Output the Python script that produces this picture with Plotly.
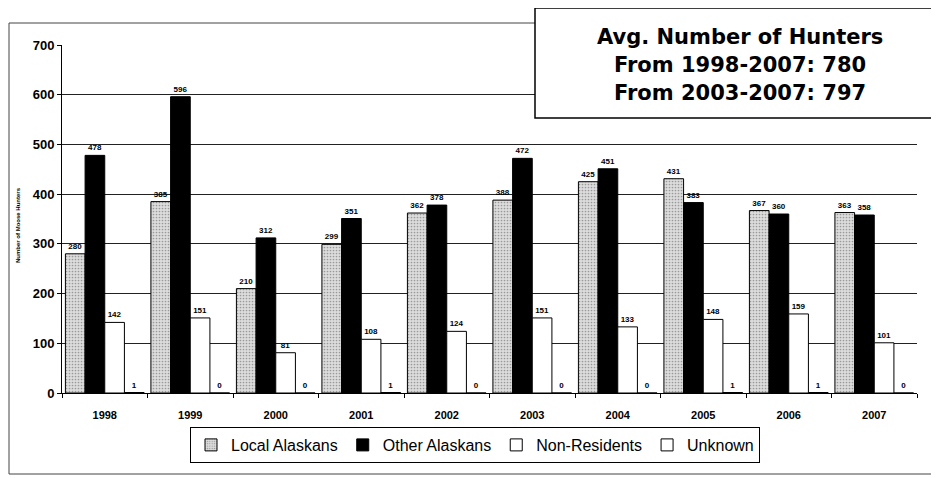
import plotly.graph_objects as go

years = ["1998", "1999", "2000", "2001", "2002", "2003", "2004", "2005", "2006", "2007"]
local_alaskans = [280, 385, 210, 299, 362, 388, 425, 431, 367, 363]
other_alaskans = [478, 596, 312, 351, 378, 472, 451, 383, 360, 358]
non_residents = [142, 151, 81, 108, 124, 151, 133, 148, 159, 101]
unknown = [1, 0, 0, 1, 0, 0, 0, 1, 1, 0]
y_ticks = [0, 100, 200, 300, 400, 500, 600, 700]
title_lines = ["Avg. Number of Hunters", "From 1998-2007: 780", "From 2003-2007: 797"]

OFF = 8  # page body margin
W, H = 939 - OFF, 478 - OFF
L, R, T, B = 62 - OFF, 22, 45 - OFF, 85
pw, ph = W - L - R, H - T - B

def px(x):
    return (x - OFF - L) / pw

def py(y):
    return (H - B - (y - OFF)) / ph

fig = go.Figure()
label_font = dict(family="Liberation Sans, Arial", size=8, color="black", weight="bold")

series = [
    ("Local Alaskans", local_alaskans, dict(color="#d4d4d4", line=dict(color="black", width=1),
                                             pattern=dict(shape=".", fgcolor="#555555", bgcolor="#dcdcdc", size=3, solidity=0.25))),
    ("Other Alaskans", other_alaskans, dict(color="black", line=dict(color="black", width=1))),
    ("Non-Residents", non_residents, dict(color="white", line=dict(color="black", width=1))),
    ("Unknown", unknown, dict(color="white", line=dict(color="black", width=1))),
]
for name, vals, marker in series:
    fig.add_trace(go.Bar(
        x=years, y=vals, name=name, marker=marker,
        text=[str(v) for v in vals], textposition="outside",
        textfont=label_font, cliponaxis=False,
    ))

fig.update_layout(
    width=W, height=H,
    margin=dict(l=L, r=R, t=T, b=B, autoexpand=False),
    paper_bgcolor="white", plot_bgcolor="white",
    barmode="group", bargap=0.08, bargroupgap=0,
    showlegend=True,
    legend=dict(orientation="h", x=px(475), xanchor="center", y=py(427), yanchor="top",
                bordercolor="black", borderwidth=1, bgcolor="white",
                font=dict(family="Liberation Sans, Arial", size=16, color="black"),
                tracegroupgap=0),
    xaxis=dict(showgrid=False, showline=True, linecolor="black", linewidth=1,
               ticks="outside", tickson="boundaries", ticklen=4, tickcolor="black",
               ticklabelstandoff=12,
               tickfont=dict(family="Liberation Sans, Arial", size=11, color="black", weight="bold")),
    yaxis=dict(range=[0, 700], tickvals=y_ticks, showgrid=True, gridcolor="#222222", gridwidth=1,
               showline=True, linecolor="black", linewidth=1, ticks="outside", ticklen=4,
               tickcolor="black", zeroline=False,
               tickfont=dict(family="Liberation Sans, Arial", size=13, color="black", weight="bold")),
)

# outer chart border
fig.add_shape(type="rect", xref="paper", yref="paper",
              x0=px(9), x1=px(933), y0=py(474), y1=py(23),
              line=dict(color="#444444", width=1), fillcolor="rgba(0,0,0,0)", layer="below")
# title box
fig.add_shape(type="rect", xref="paper", yref="paper",
              x0=px(535), x1=px(960), y0=py(118), y1=py(8),
              line=dict(color="black", width=1.5), fillcolor="white", layer="above")
for i, line in enumerate(title_lines):
    fig.add_annotation(xref="paper", yref="paper", x=px(740), y=py(37 + 28 * i),
                       xanchor="center", yanchor="middle",
                       text=line, showarrow=False, align="center",
                       font=dict(family="DejaVu Sans", size=21, color="black", weight="bold"))
# y axis title
fig.add_annotation(xref="paper", yref="paper", x=px(18), y=py(225), xanchor="center", yanchor="middle",
                   text="Number of Moose Hunters", textangle=-90, showarrow=False,
                   font=dict(family="Liberation Sans, Arial", size=6, color="black", weight="bold"))

fig.write_html("out.html")
